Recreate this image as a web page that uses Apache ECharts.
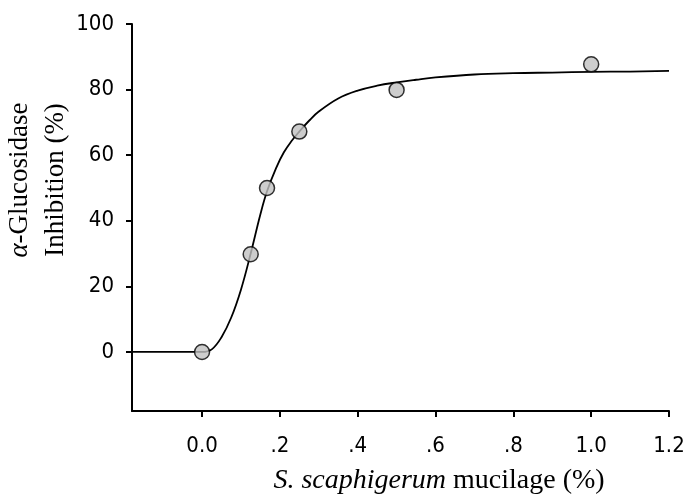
<!DOCTYPE html>
<html><head><meta charset="utf-8">
<script src="https://cdn.jsdelivr.net/npm/echarts@6/dist/echarts.min.js"></script>
<style>html,body{margin:0;padding:0;background:#fff}#c{width:689px;height:494px}</style>
</head><body><div id="c"></div>
<script>
// measured data points
var pointX = [0.0, 0.125, 0.167, 0.25, 0.5, 1.0];
var pointY = [0, 29.8, 50, 67.2, 79.9, 87.7];
// fitted curve
var curveX = [-0.18, 0, 0.025, 0.05, 0.075, 0.1, 0.125, 0.15, 0.167, 0.19, 0.21, 0.23, 0.25, 0.275, 0.3, 0.35, 0.4, 0.45, 0.5, 0.55, 0.6, 0.7, 0.8, 0.9, 1.0, 1.1, 1.2];
var curveY = [0, 0, 0.8, 4.5, 10.5, 19, 30, 42, 49, 56, 60.8, 64.3, 67.2, 70.5, 73.3, 77.3, 79.7, 81.2, 82.2, 83.0, 83.7, 84.6, 85.0, 85.2, 85.4, 85.5, 85.7];
var xTicks = [0, 0.2, 0.4, 0.6, 0.8, 1.0, 1.2];
var xTickLabels = ['0.0', '.2', '.4', '.6', '.8', '1.0', '1.2'];
var yTicks = [0, 20, 40, 60, 80, 100];

var tickFont = '"DejaVu Sans Condensed", "DejaVu Sans", sans-serif';
var serif = '"Liberation Serif", "Times New Roman", serif';

var chart = echarts.init(document.getElementById('c'), null, {renderer: 'canvas'});
chart.setOption({
  animation: false,
  backgroundColor: '#fff',
  grid: {left: 132, right: 20, top: 24, bottom: 83, containLabel: false},
  xAxis: {
    type: 'value', min: -0.18, max: 1.2,
    splitLine: {show: false},
    axisLine: {show: true, onZero: false, lineStyle: {color: '#000', width: 2}},
    axisTick: {show: true, customValues: xTicks, length: 6, lineStyle: {color: '#000', width: 2}},
    axisLabel: {
      customValues: xTicks, margin: 24, color: '#000', fontSize: 22, fontFamily: tickFont,
      formatter: function (v) {
        for (var i = 0; i < xTicks.length; i++) if (Math.abs(xTicks[i] - v) < 1e-6) return xTickLabels[i];
        return '';
      }
    }
  },
  yAxis: {
    type: 'value', min: -18, max: 100,
    splitLine: {show: false},
    axisLine: {show: true, onZero: false, lineStyle: {color: '#000', width: 2}},
    axisTick: {show: true, customValues: yTicks, length: 6, lineStyle: {color: '#000', width: 2}},
    axisLabel: {customValues: yTicks, margin: 18, color: '#000', fontSize: 22, fontFamily: tickFont}
  },
  series: [
    {
      type: 'line', data: curveX.map(function (x, i) { return [x, curveY[i]]; }),
      showSymbol: false, smooth: 0.4,
      lineStyle: {color: '#000', width: 1.8}, z: 2
    },
    {
      type: 'scatter', data: pointX.map(function (x, i) { return [x, pointY[i]]; }),
      symbol: 'circle', symbolSize: 15,
      itemStyle: {color: '#c0c0c0', borderColor: '#000', borderWidth: 1.5}, z: 3
    }
  ],
  graphic: [
    {
      type: 'text', x: 38, y: 180, rotation: Math.PI / 2,
      style: {
        text: '{i|α}-Glucosidase\nInhibition (%)',
        font: '27px ' + serif, fill: '#000', align: 'center', verticalAlign: 'middle', lineHeight: 36,
        rich: {i: {fontStyle: 'italic', fontSize: 27, fontFamily: serif, lineHeight: 36}}
      }
    },
    {
      type: 'text', x: 439, y: 481,
      style: {
        text: '{i|S. scaphigerum} mucilage (%)',
        font: '28px ' + serif, fill: '#000', align: 'center', verticalAlign: 'middle',
        rich: {i: {fontStyle: 'italic', fontSize: 28, fontFamily: serif}}
      }
    }
  ]
});
</script></body></html>
